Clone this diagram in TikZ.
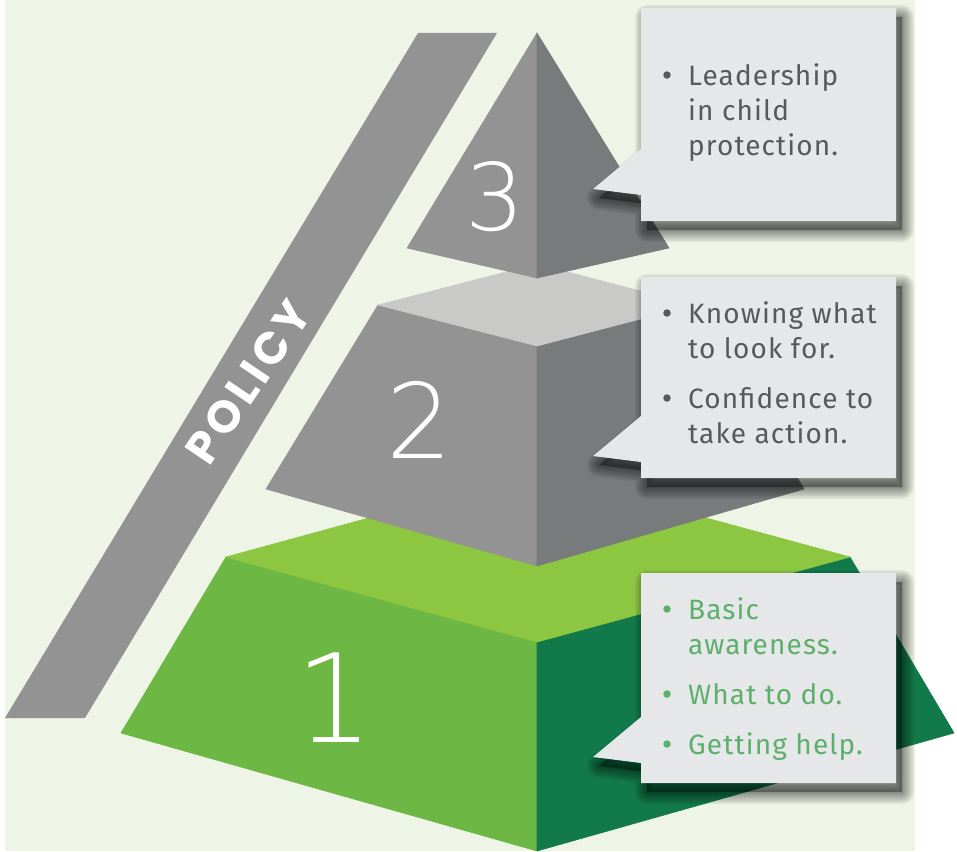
\documentclass[tikz,border=0pt]{standalone}
\usepackage{fontspec}
\setmainfont{Fira Sans}
\newfontfamily\bodyfont[LetterSpace=4]{Fira Sans}
\newfontfamily\policyfont[LetterSpace=10]{Poppins}
\IfFontExistsTF{DejaVu Sans ExtraLight}{\newfontfamily\numfont{DejaVu Sans ExtraLight}}{\newfontfamily\numfont{DejaVu Sans}}
\definecolor{bgc}{HTML}{EEF5E6}
\definecolor{barc}{HTML}{939393}
\definecolor{gL}{HTML}{939393}
\definecolor{gR}{HTML}{777B7B}
\definecolor{gTop}{HTML}{C9C9C7}
\definecolor{tTop}{HTML}{8DC641}
\definecolor{tL}{HTML}{6DB744}
\definecolor{tR}{HTML}{127A4A}
\definecolor{boxc}{HTML}{E6E7E8}
\definecolor{txtgray}{HTML}{58595B}
\definecolor{txtgreen}{HTML}{5DAF6C}
\tikzset{
  face/.style={fill=#1, draw=#1, line width=0.6pt, line join=round},
  bodytxt/.style={anchor=base west, inner sep=0pt, font=\bodyfont\fontsize{28}{34}\selectfont, text=txtgray},
  greentxt/.style={bodytxt, text=txtgreen},
  bulletdot/.style={circle, fill=#1, inner sep=0pt, minimum size=7.5pt},
  numtxt/.style={anchor=base, inner sep=0pt, text=white},
  policytxt/.style={inner sep=0pt, text=white, font=\policyfont\bfseries\fontsize{45}{48}\selectfont},
}
% callout: #1 top, #2 bottom, #3 tip y
\newcommand\drawcallout[3]{%
  \begin{scope}[shift={(6,9)}]
    \fill[black, opacity=0.35] (641,#1) -- (896,#1) -- (896,#2) -- (641,#2) -- (641,#3+6) -- (593,#3) -- (641,#3-40) -- cycle;
    \foreach \w in {3,6,9,12,15,18,21,24}
      \draw[black, opacity=0.06, line width=\w pt, line join=round] (641,#1) -- (896,#1) -- (896,#2) -- (641,#2) -- (641,#3+6) -- (593,#3) -- (641,#3-40) -- cycle;
  \end{scope}
  \fill[boxc] (641,#1) -- (896,#1) -- (896,#2) -- (641,#2) -- (641,#3+6) -- (593,#3) -- (641,#3-40) -- cycle;
}
\begin{document}
\begin{tikzpicture}[x=1pt, y=-1pt]
\useasboundingbox (0,0) rectangle (957,851);
\fill[white] (0,0) rectangle (957,851);
\fill[bgc] (5,0) rectangle (915,851);
% policy bar
\fill[barc] (418,33) -- (497,33) -- (85,718) -- (5,718) -- cycle;
\node[policytxt, rotate=56] (policy) at (248,382) {POLICY};
% tier 1
\path[face=tL] (226,557) -- (537,642) -- (537,851) -- (121,733) -- cycle;
\path[face=tR] (537,642) -- (850,557) -- (954,733) -- (537,851) -- cycle;
\path[face=tTop] (226,557) -- (537,472) -- (850,557) -- (537,642) -- cycle;
% tier 2
\path[face=gL] (378,305) -- (537,346) -- (537,566) -- (266,489) -- cycle;
\path[face=gR] (537,346) -- (694,305) -- (804,489) -- (537,566) -- cycle;
\path[face=gTop] (378,305) -- (537,264) -- (694,305) -- (537,346) -- cycle;
% tier 3
\path[face=gL] (537,33) -- (537,278) -- (407,248) -- cycle;
\path[face=gR] (537,33) -- (669,248) -- (537,278) -- cycle;
% numbers
\node[numtxt, font=\numfont\fontsize{93}{93}\selectfont] (n3) at (495,230) {3};
\node[numtxt, font=\numfont\fontsize{104}{104}\selectfont] (n2) at (420,458) {2};
\node[numtxt, font=\numfont\fontsize{123}{123}\selectfont] (n1) at (335,742) {1};
% callouts
\drawcallout{8}{221}{189}
\drawcallout{277}{478}{456}
\drawcallout{573}{783}{757}
% box 1 text
\node[bulletdot=txtgray] (b31) at (667,75) {};
\node[bodytxt] (l31) at (688,85) {Leadership};
\node[bodytxt] (l32) at (688,120) {in child};
\node[bodytxt] (l33) at (688,155) {protection.};
% box 2 text
\node[bulletdot=txtgray] (b21) at (667,313) {};
\node[bodytxt] (l21) at (688,323) {Knowing what};
\node[bodytxt] (l22) at (688,358) {to look for.};
\node[bulletdot=txtgray] (b22) at (667,398) {};
\node[bodytxt] (l23) at (688,408) {Confidence to};
\node[bodytxt] (l24) at (688,443) {take action.};
% box 3 text
\node[bulletdot=txtgreen] (b11) at (667,609) {};
\node[greentxt] (l11) at (688,619) {Basic};
\node[greentxt] (l12) at (688,654) {awareness.};
\node[bulletdot=txtgreen] (b12) at (667,694) {};
\node[greentxt] (l13) at (688,704) {What to do.};
\node[bulletdot=txtgreen] (b13) at (667,744) {};
\node[greentxt] (l14) at (688,754) {Getting help.};
\end{tikzpicture}
\end{document}
